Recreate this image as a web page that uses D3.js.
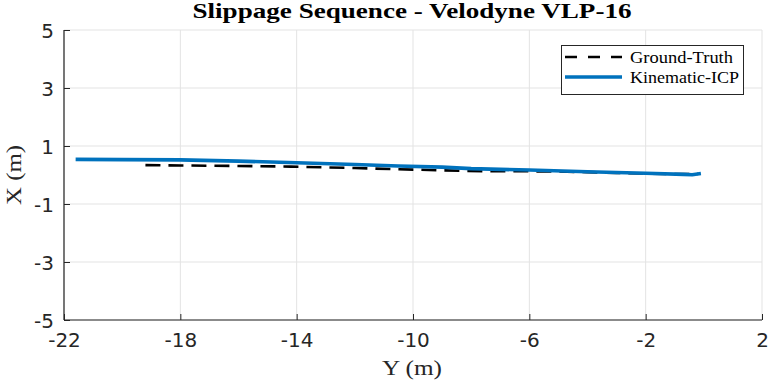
<!DOCTYPE html>
<html><head><meta charset="utf-8">
<script src="https://cdn.jsdelivr.net/npm/d3@7"></script>
<style>body{margin:0;background:#fff}</style>
</head><body>
<script>
const xTicks = [-22, -18, -14, -10, -6, -2, 2];
const yTicks = [-5, -3, -1, 1, 3, 5];
const seriesNames = ["Ground-Truth", "Kinematic-ICP"];
const gtY = [-19.2, -18, -16, -14.2, -12, -10.5, -9, -7.5, -6.5, -5, -4, -3, -2, -1, -0.2];
const gtX = [0.34, 0.33, 0.31, 0.29, 0.24, 0.20, 0.16, 0.13, 0.13, 0.12, 0.10, 0.07, 0.05, 0.03, 0.04];
const icpY = [-21.6, -20, -18, -16, -14, -12, -10.5, -9, -8, -6, -4, -2, -0.7, -0.4, -0.1];
const icpX = [0.54, 0.53, 0.52, 0.48, 0.42, 0.36, 0.31, 0.27, 0.22, 0.17, 0.11, 0.06, 0.02, 0.01, 0.05];

const W = 769, H = 382;
const svg = d3.select("body").append("svg").attr("width", W).attr("height", H);
const x = d3.scaleLinear().domain([-22, 2]).range([64, 762]);
const y = d3.scaleLinear().domain([-5, 5]).range([320, 30]);

// grid
svg.append("g").selectAll("line").data(xTicks).join("line")
  .attr("x1", d => x(d)).attr("x2", d => x(d)).attr("y1", y(-5)).attr("y2", y(5))
  .attr("stroke", "#e3e3e3").attr("stroke-width", 1);
svg.append("g").selectAll("line").data(yTicks).join("line")
  .attr("y1", d => y(d)).attr("y2", d => y(d)).attr("x1", x(-22)).attr("x2", x(2))
  .attr("stroke", "#e3e3e3").attr("stroke-width", 1);

// axes
const fmt = d => String(d);
const xAxis = d3.axisBottom(x).tickValues(xTicks).tickSize(-6).tickPadding(13).tickFormat(fmt);
const yAxis = d3.axisLeft(y).tickValues(yTicks).tickSize(-6).tickPadding(10).tickFormat(fmt);
const gx = svg.append("g").attr("transform", `translate(0,${y(-5)})`).call(xAxis);
const gy = svg.append("g").attr("transform", `translate(${x(-22)},0)`).call(yAxis);
[gx, gy].forEach(g => {
  g.select(".domain").attr("stroke", "#262626").attr("stroke-width", 1.2);
  g.selectAll(".tick line").attr("stroke", "#262626");
  g.selectAll(".tick text").attr("fill", "#262626").attr("font-family", "DejaVu Sans").attr("font-size", 20);
});
gx.select(".domain").attr("d", `M${x(-22)},0H${x(2)}`);
gy.select(".domain").attr("d", `M0,${y(-5)}V${y(5)}`);
gx.selectAll(".tick text").attr("dy", "0.71em");
gy.selectAll(".tick text").attr("dy", "0.36em");

// lines
const line = d3.line().x(d => x(d[0])).y(d => y(d[1]));
svg.append("path").datum(gtY.map((v, i) => [v, gtX[i]])).attr("d", line)
  .attr("fill", "none").attr("stroke", "#000").attr("stroke-width", 2.6).attr("stroke-dasharray", "15,8");
svg.append("path").datum(icpY.map((v, i) => [v, icpX[i]])).attr("d", line)
  .attr("fill", "none").attr("stroke", "#0072BD").attr("stroke-width", 3.6).attr("stroke-linejoin", "round");

// title & labels
svg.append("text").attr("x", 412).attr("y", 18).attr("text-anchor", "middle")
  .attr("font-family", "Liberation Serif").attr("font-weight", "bold").attr("font-size", 21)
  .attr("textLength", 439).attr("lengthAdjust", "spacingAndGlyphs")
  .text("Slippage Sequence - Velodyne VLP-16");
svg.append("text").attr("x", 412).attr("y", 375).attr("text-anchor", "middle")
  .attr("font-family", "Liberation Serif").attr("font-size", 22).attr("fill", "#262626")
  .attr("textLength", 60).attr("lengthAdjust", "spacingAndGlyphs")
  .text("Y (m)");
svg.append("text").attr("transform", "translate(21,175) rotate(-90)").attr("text-anchor", "middle")
  .attr("font-family", "Liberation Serif").attr("font-size", 22).attr("fill", "#262626")
  .attr("textLength", 60).attr("lengthAdjust", "spacingAndGlyphs")
  .text("X (m)");

// legend
const lg = svg.append("g");
lg.append("rect").attr("x", 561.5).attr("y", 45.5).attr("width", 182).attr("height", 49)
  .attr("fill", "#fff").attr("stroke", "#262626").attr("stroke-width", 1);
const styles = [{c: "#000", w: 2.6, dash: "12,11", len: 103}, {c: "#0072BD", w: 3.6, dash: null, len: 109}];
seriesNames.forEach((n, i) => {
  const yy = 57 + i * 20;
  const l = lg.append("line").attr("x1", 565).attr("x2", 622).attr("y1", yy).attr("y2", yy)
    .attr("stroke", styles[i].c).attr("stroke-width", styles[i].w);
  if (styles[i].dash) l.attr("stroke-dasharray", styles[i].dash);
  lg.append("text").attr("x", 630).attr("y", yy).attr("dy", "0.33em")
    .attr("font-family", "Liberation Serif").attr("font-size", 17).attr("fill", "#000")
    .attr("textLength", styles[i].len).attr("lengthAdjust", "spacingAndGlyphs").text(n);
});
</script>
</body></html>
